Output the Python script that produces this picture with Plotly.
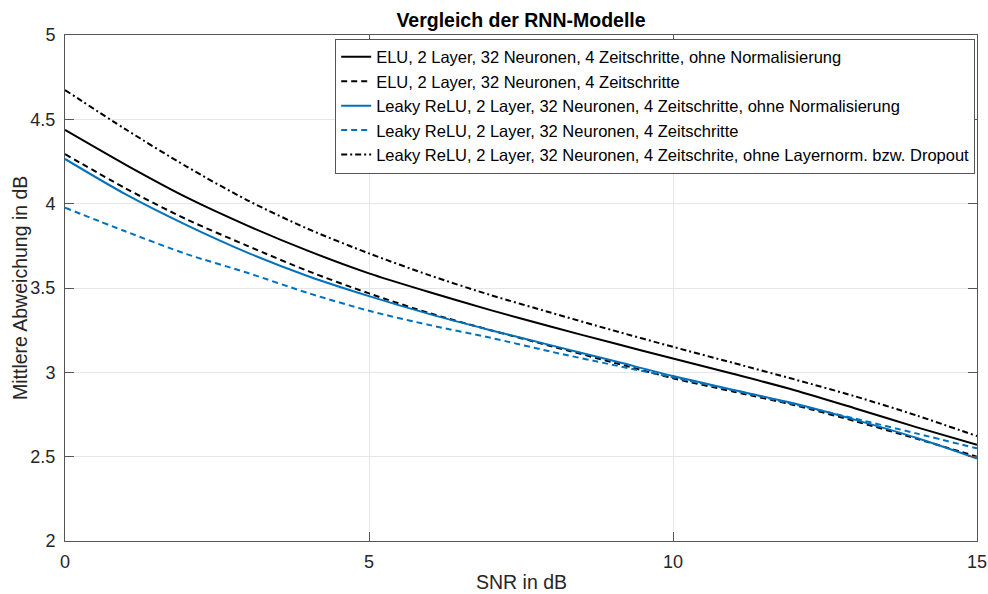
import plotly.graph_objects as go

snr_db = [0, 1, 2, 3, 4, 5, 6, 7, 8, 9, 10, 11, 12, 13, 14, 15]

elu_ohne_norm = [4.437, 4.23, 4.037, 3.87, 3.72, 3.587, 3.475, 3.369, 3.27, 3.175, 3.082, 2.99, 2.894, 2.786, 2.675, 2.57]
elu = [4.294, 4.09, 3.907, 3.75, 3.60, 3.468, 3.35, 3.25, 3.155, 3.06, 2.965, 2.885, 2.805, 2.71, 2.607, 2.50]
leaky_ohne_norm = [4.265, 4.055, 3.873, 3.71, 3.57, 3.452, 3.345, 3.25, 3.16, 3.07, 2.978, 2.895, 2.815, 2.718, 2.612, 2.489]
leaky = [3.976, 3.835, 3.701, 3.59, 3.47, 3.365, 3.28, 3.205, 3.122, 3.045, 2.97, 2.893, 2.81, 2.725, 2.638, 2.549]
leaky_ohne_ln_dropout = [4.674, 4.44, 4.22, 4.02, 3.85, 3.705, 3.575, 3.458, 3.353, 3.25, 3.151, 3.055, 2.958, 2.857, 2.745, 2.622]

names = [
    "ELU, 2 Layer, 32 Neuronen, 4 Zeitschritte, ohne Normalisierung",
    "ELU, 2 Layer, 32 Neuronen, 4 Zeitschritte",
    "Leaky ReLU, 2 Layer, 32 Neuronen, 4 Zeitschritte, ohne Normalisierung",
    "Leaky ReLU, 2 Layer, 32 Neuronen, 4 Zeitschritte",
    "Leaky ReLU, 2 Layer, 32 Neuronen, 4 Zeitschrite, ohne Layernorm. bzw. Dropout",
]
series = [elu_ohne_norm, elu, leaky_ohne_norm, leaky, leaky_ohne_ln_dropout]
colors = ["#000000", "#000000", "#0072BD", "#0072BD", "#000000"]
dashes = ["solid", "6px,4px", "solid", "6px,4px", "6px,3px,2px,3px"]

FONT = "Liberation Sans, Arial, Helvetica, sans-serif"
AX = "#262626"

fig = go.Figure()
for name, ys, c, d in zip(names, series, colors, dashes):
    fig.add_trace(go.Scatter(
        x=snr_db, y=ys, mode="lines", name=name,
        line=dict(color=c, width=2, dash=d, shape="spline", smoothing=0.8),
    ))

axis_common = dict(
    showline=True, linecolor="#555555", linewidth=1, mirror="ticks",
    ticks="inside", ticklen=9, tickcolor="#555555", tickwidth=1,
    showgrid=True, gridcolor="#e6e6e6", gridwidth=1, zeroline=False,
    automargin=False,
    tickfont=dict(family=FONT, size=18, color=AX),
)

fig.update_layout(
    width=988, height=594, autosize=False,
    margin=dict(l=65, r=11, t=35, b=53, autoexpand=False),
    paper_bgcolor="white", plot_bgcolor="white",
    font=dict(family=FONT, color=AX),
    title=dict(text="<b>Vergleich der RNN-Modelle</b>", x=0.5, xref="paper",
               y=1 - 20 / 594, yref="container", yanchor="middle", xanchor="center",
               font=dict(family=FONT, size=19.5, color="#000000")),
    xaxis=dict(range=[0, 15], tickvals=[0, 5, 10, 15], ticklabelstandoff=4, **axis_common),
    yaxis=dict(range=[2, 5], tickvals=[2, 2.5, 3, 3.5, 4, 4.5, 5],
               ticktext=["2", "2.5", "3", "3.5", "4", "4.5", "5"], ticklabelstandoff=5, **axis_common),
    legend=dict(x=0.998, y=0.993, xanchor="right", yanchor="top",
                bgcolor="white", bordercolor="#555555", borderwidth=1,
                font=dict(family=FONT, size=16.5, color="#000000"),
                itemwidth=30, tracegroupgap=0),
    showlegend=True,
    annotations=[
        dict(text="SNR in dB", x=0.5, y=-(582 - 541) / 506, xref="paper", yref="paper",
             xanchor="center", yanchor="middle", showarrow=False,
             font=dict(family=FONT, size=19.5, color=AX)),
        dict(text="Mittlere Abweichung in dB", x=-(65 - 20) / 912, y=0.5, xref="paper", yref="paper",
             xanchor="center", yanchor="middle", showarrow=False, textangle=-90,
             font=dict(family=FONT, size=19.5, color=AX)),
    ],
)

fig.write_html(
    "out.html",
    config={"responsive": False, "displayModeBar": False},
    post_script="document.body.style.margin='0';document.body.style.overflow='hidden';",
)
